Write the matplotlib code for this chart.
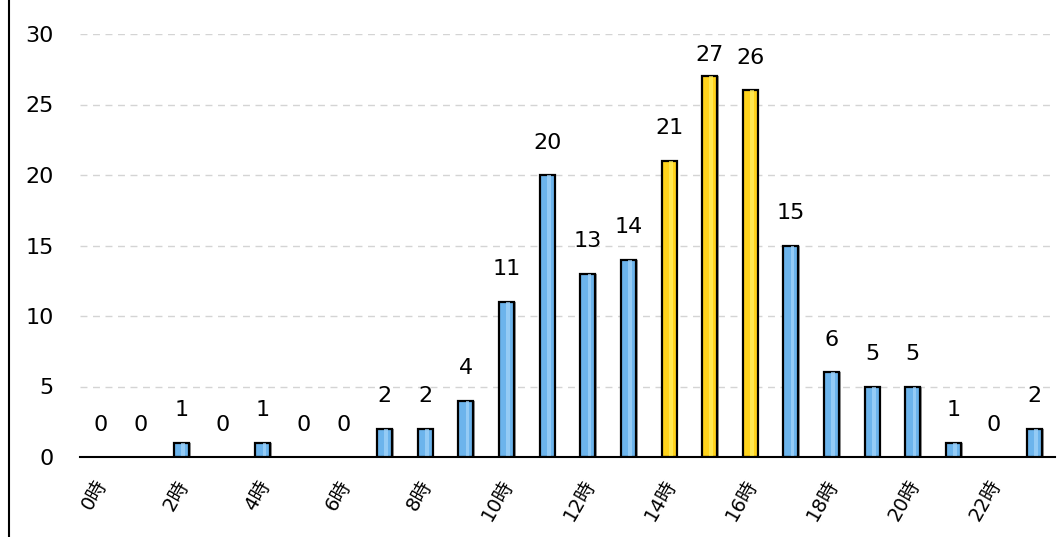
import matplotlib
matplotlib.use("Agg")
from matplotlib import pyplot as plt
from matplotlib.lines import Line2D
from matplotlib.transforms import ScaledTranslation

plt.rcParams['font.family'] = ['DejaVu Sans', 'Noto Sans CJK JP']

hours = list(range(24))
counts = [0, 0, 1, 0, 1, 0, 0, 2, 2, 4, 11, 20, 13, 14, 21, 27, 26, 15, 6, 5, 5, 1, 0, 2]
highlight = [14, 15, 16]
tick_hours = list(range(0, 24, 2))
tick_labels = [f"{h}時" for h in tick_hours]

fig = plt.figure(figsize=(10.59, 5.37), dpi=100)
ax = fig.add_axes([80 / 1059, 80 / 537, 975 / 1059, 423 / 537])

colors = ['#ffd31c' if h in highlight else '#6cb4ec' for h in hours]
edge_w = [1.6 if v > 0 else 0 for v in counts]
# shadow on right side
ax.bar([h + 0.04 for h in hours], counts, width=0.37, color='#9a9a9a', zorder=2)
ax.bar(hours, counts, width=0.37, color=colors, edgecolor='black', linewidth=edge_w, zorder=3)
# light inner highlight
light = ['#fff066' if h in highlight else '#a6d6fa' for h in hours]
ax.bar([h + 0.04 for h in hours], counts, width=0.09, color=light, zorder=4, alpha=0.7)

for h, v in zip(hours, counts):
    ax.text(h, min(v + 2.3, 28.5), str(v), ha='center', va='center', fontsize=16, zorder=5)

ax.set_xlim(-0.5, 23.5)
ax.set_ylim(0, 30)
ax.set_yticks(range(0, 31, 5))
ax.set_xticks(tick_hours)
ax.set_xticklabels(tick_labels, rotation=60, ha='right', va='top', rotation_mode='anchor', fontsize=14)
ax.tick_params(axis='both', length=0)
ax.tick_params(axis='y', labelsize=16, pad=19)
ax.tick_params(axis='x', pad=14)
shift = ScaledTranslation(-6 / 100, 0, fig.dpi_scale_trans)
for lbl in ax.get_xticklabels():
    lbl.set_transform(lbl.get_transform() + shift)
ax.yaxis.grid(True, linestyle=(0, (5, 4)), color='#d4d4d4', linewidth=1)
ax.set_axisbelow(True)
for s in ['top', 'right', 'left']:
    ax.spines[s].set_visible(False)
ax.spines['bottom'].set_linewidth(1.5)
ax.spines['bottom'].set_zorder(6)

fig.add_artist(Line2D([8.5 / 1059, 8.5 / 1059], [0, 1], color='black', linewidth=1.5))

fig.savefig("out.png", dpi=100)
